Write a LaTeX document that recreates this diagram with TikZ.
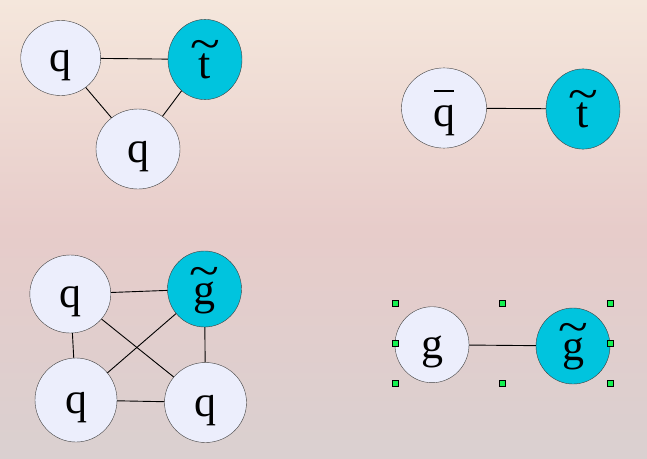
\documentclass[tikz,border=0pt]{standalone}
\usepackage{fontspec}
\setmainfont{Liberation Serif}
\usepackage{tikz}
\usetikzlibrary{shapes.geometric}
\definecolor{qfill}{RGB}{236,238,252}
\definecolor{sqfill}{RGB}{0,196,222}
\definecolor{bgtop}{RGB}{245,231,220}
\definecolor{bgmid}{RGB}{231,204,202}
\definecolor{bgbot}{RGB}{218,208,208}
\definecolor{hfill}{RGB}{20,240,80}
% wide tilde and bar set over a letter
\newcommand{\tildeon}[1]{\ooalign{\hidewidth\raisebox{0.42em}{\scalebox{1.25}[1.05]{\char"007E}}\hidewidth\cr #1\cr}}
\newcommand{\baron}[1]{\ooalign{\hidewidth\raisebox{0.78em}{\rule{0.46em}{0.045em}}\hidewidth\cr #1\cr}}
\tikzstyle{qn}=[shape=ellipse,draw=black!75,fill=qfill,inner sep=0pt,
  font=\fontsize{44}{44}\selectfont,text height=37pt,text depth=9.7pt]
\tikzstyle{sn}=[qn,fill=sqfill]
\tikzstyle{low}=[text height=47pt]
\tikzstyle{common}=[draw=black,line width=0.9pt]
\tikzstyle{handle}=[shape=rectangle,draw=black,fill=hfill,line width=0.8pt,
  minimum size=6pt,inner sep=0pt]

\begin{document}
\begin{tikzpicture}[x=1pt,y=-1pt]
            \fill[top color=bgtop,bottom color=bgbot,middle color=bgmid]
                (0,0) rectangle (647,458);
            % three-body group, top left
            \node[qn,minimum width=80pt,minimum height=75pt] (qa) at (60.7, 58) {q}
            ;
            \node[sn,low,minimum width=74pt,minimum height=75pt] (ta) at (205, 59.5) {\tildeon{t}}
                edge[common] (qa)
            ;
            \node[qn,minimum width=84pt,minimum height=80pt] (qb) at (138, 149) {q}
                edge[common] (qa)
                edge[common] (ta)
            ;
            % pair, top right
            \node[qn,low,minimum width=85pt,minimum height=73pt] (qbar) at (444, 108) {\baron{q}}
            ;
            \node[sn,low,minimum width=74pt,minimum height=75pt] (tb) at (583, 109) {\tildeon{t}}
                edge[common] (qbar)
            ;
            % four-body group, bottom left
            \node[qn,minimum width=81pt,minimum height=78pt] (qc) at (70.3, 294) {q}
            ;
            \node[sn,text height=41pt,minimum width=74pt,minimum height=76pt] (ga) at (204.5, 289) {\tildeon{g}}
                edge[common] (qc)
            ;
            \node[qn,minimum width=82pt,minimum height=84pt] (qd) at (76, 400) {q}
                edge[common] (qc)
                edge[common] (ga)
            ;
            \node[qn,minimum width=82pt,minimum height=80pt] (qe) at (205.5, 402.5) {q}
                edge[common] (qc)
                edge[common] (ga)
                edge[common] (qd)
            ;
            % pair, bottom right
            \node[qn,minimum width=74pt,minimum height=76pt] (gb) at (432, 344.7) {g}
            ;
            \node[sn,text height=39pt,minimum width=74pt,minimum height=76pt] (gc) at (573, 346) {\tildeon{g}}
                edge[common] (gb)
            ;
            % selection handles
            \node[handle] (h1) at (395.3, 303.3) {};
            \node[handle] (h2) at (502.3, 303.3) {};
            \node[handle] (h3) at (610, 303.3) {};
            \node[handle] (h4) at (395.3, 343.3) {};
            \node[handle] (h5) at (610, 343.3) {};
            \node[handle] (h6) at (395.3, 383.3) {};
            \node[handle] (h7) at (502.3, 383.3) {};
            \node[handle] (h8) at (610, 383.3) {};
        \end{tikzpicture}
\end{document}
